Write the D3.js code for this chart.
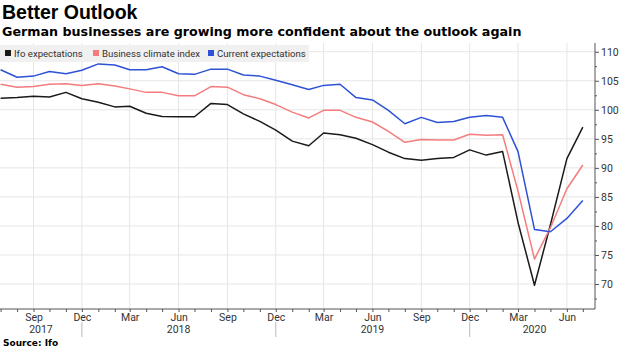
<!DOCTYPE html>
<html>
<head>
<meta charset="utf-8">
<style>
html, body { margin:0; padding:0; background:#fff; overflow:hidden; }
svg { display:block; }
text { font-family: Roboto, sans-serif; fill:#333; }
.title { font-family: "Liberation Sans", Arial, sans-serif; font-weight:bold; fill:#000; }
.subtitle { font-family: "DejaVu Sans", sans-serif; font-weight:bold; fill:#000; }
.axis path, .axis line { stroke:#555; }
</style>
</head>
<body>
<svg id="chart" width="620" height="348"></svg>
<script src="https://d3js.org/d3.v7.min.js"></script>
<script>

// monthly readings, Jul 2017 .. Jul 2020
var months = [
  "2017-07","2017-08","2017-09","2017-10","2017-11","2017-12",
  "2018-01","2018-02","2018-03","2018-04","2018-05","2018-06",
  "2018-07","2018-08","2018-09","2018-10","2018-11","2018-12",
  "2019-01","2019-02","2019-03","2019-04","2019-05","2019-06",
  "2019-07","2019-08","2019-09","2019-10","2019-11","2019-12",
  "2020-01","2020-02","2020-03","2020-04","2020-05","2020-06","2020-07"
];

var ifoExpectations = [
  102.0, 102.1, 102.35, 102.2, 103.0, 101.9,
  101.3, 100.5, 100.6, 99.4, 98.85, 98.8,
  98.8, 101.1, 100.9, 99.3, 98.0, 96.5,
  94.6, 93.8, 96.0, 95.7, 95.1, 94.0,
  92.7, 91.6, 91.3, 91.6, 91.8, 93.1,
  92.2, 92.8, 80.6, 69.8, 80.2, 91.6, 97.0
];

var businessClimate = [
  104.4, 103.9, 104.0, 104.4, 104.5, 104.2,
  104.5, 104.1, 103.6, 103.0, 103.0, 102.4,
  102.4, 104.0, 103.9, 102.6, 101.9, 100.9,
  99.6, 98.6, 99.9, 99.9, 98.7, 97.9,
  96.3, 94.4, 94.9, 94.8, 94.8, 95.8,
  95.6, 95.7, 86.0, 74.3, 79.7, 86.4, 90.5
];

var currentExpectations = [
  106.9, 105.6, 105.8, 106.6, 106.2, 106.8,
  107.9, 107.7, 106.9, 106.9, 107.4, 106.2,
  106.1, 107.0, 107.0, 106.0, 105.8, 105.1,
  104.3, 103.5, 104.2, 104.4, 102.1, 101.7,
  99.9, 97.6, 98.7, 97.8, 98.0, 98.7,
  99.0, 98.7, 92.8, 79.4, 79.0, 81.3, 84.4
];

var seriesNames = ["Ifo expectations", "Business climate index", "Current expectations"];
var seriesColors = ["#1a1a1a", "#f47c7c", "#2d52d6"];
var yTicks = [70, 75, 80, 85, 90, 95, 100, 105, 110];
var yearLabels = [["2017", "2017-09-15"], ["2018", "2018-06-01"], ["2019", "2019-06-01"], ["2020", "2020-04-01"]];

var parseMonth = d3.timeParse("%Y-%m");
var parseDay = d3.timeParse("%Y-%m-%d");
var dates = months.map(parseMonth);

var svg = d3.select("#chart");
var plotLeft = 0, plotRight = 595, plotTop = 43, plotBottom = 309;

var x = d3.scaleTime()
    .domain([dates[0], d3.timeMonth.offset(dates[dates.length - 1], 1)])
    .range([0.6, 599.3]);

var y = d3.scaleLinear()
    .domain([65.7, 111.5])
    .range([plotBottom, plotTop]);

// quarterly months get grid lines and labels
var quarter = function(d) { return d.getMonth() % 3 === 2; };
var allMonths = d3.timeMonth.range(dates[0], x.invert(plotRight));

// grid
svg.append("g").selectAll("line")
  .data(yTicks)
  .enter().append("line")
    .attr("x1", plotLeft).attr("x2", plotRight)
    .attr("y1", d => y(d)).attr("y2", d => y(d))
    .attr("stroke", "#e6e6e6");

svg.append("g").selectAll("line")
  .data(allMonths.filter(quarter))
  .enter().append("line")
    .attr("x1", d => x(d)).attr("x2", d => x(d))
    .attr("y1", plotTop).attr("y2", plotBottom)
    .attr("stroke", "#e6e6e6");

// x axis
var xAxis = svg.append("g")
    .attr("class", "axis")
    .attr("transform", "translate(0," + plotBottom + ")")
    .call(d3.axisBottom(x)
      .tickValues(allMonths)
      .tickSize(3)
      .tickSizeOuter(0)
      .tickFormat(d => quarter(d) ? d3.timeFormat("%b")(d) : ""));
xAxis.select(".domain").attr("d", "M" + plotLeft + ",0H" + plotRight);
xAxis.selectAll("text").attr("dy", "0.6em").style("font-size", "10.5px");

// year separators and labels
svg.append("g").selectAll("line")
  .data(allMonths.filter(d => d.getMonth() === 11))
  .enter().append("line")
    .attr("x1", d => x(d)).attr("x2", d => x(d))
    .attr("y1", plotBottom + 13).attr("y2", plotBottom + 28)
    .attr("stroke", "#bbb");

svg.append("g").selectAll("text")
  .data(yearLabels)
  .enter().append("text")
    .attr("x", d => x(parseDay(d[1])))
    .attr("y", plotBottom + 24)
    .attr("text-anchor", "middle")
    .style("font-size", "10.5px")
    .text(d => d[0]);

// y axis on the right
var yAxis = svg.append("g")
    .attr("class", "axis")
    .attr("transform", "translate(" + plotRight + ",0)")
    .call(d3.axisRight(y)
      .tickValues(d3.range(67.5, 111, 2.5))
      .tickSize(4)
      .tickSizeOuter(0)
      .tickPadding(2)
      .tickFormat(d => d % 5 === 0 ? d : ""));
yAxis.select(".domain").attr("d", "M0," + plotTop + "V" + plotBottom);
yAxis.selectAll(".tick line").attr("x2", d => d % 5 === 0 ? 4 : 2);
yAxis.selectAll("text").style("font-size", "10.5px");

// legend
var legend = svg.append("g");
legend.append("rect")
    .attr("x", 0).attr("y", 45)
    .attr("width", 309).attr("height", 17)
    .attr("fill", "#f0f0f0");

var legendX = [5, 93, 208];
seriesNames.forEach(function(name, i) {
  legend.append("rect")
      .attr("x", legendX[i]).attr("y", 50)
      .attr("width", 6).attr("height", 6)
      .attr("fill", seriesColors[i]);
  legend.append("text")
      .attr("x", legendX[i] + 9).attr("y", 56.5)
      .style("font-size", "9.6px")
      .text(name);
});

// lines
var line = d3.line()
    .x((d, i) => x(dates[i]))
    .y(d => y(d));

[ifoExpectations, businessClimate, currentExpectations].forEach(function(values, i) {
  svg.append("path")
      .datum(values)
      .attr("fill", "none")
      .attr("stroke", seriesColors[i])
      .attr("stroke-width", 1.5)
      .attr("stroke-linejoin", "round")
      .attr("d", line);
});

// headings
svg.append("text")
    .attr("class", "title")
    .attr("x", 2).attr("y", 19)
    .style("font-size", "19.5px")
    .text("Better Outlook");

svg.append("text")
    .attr("class", "subtitle")
    .attr("x", 2).attr("y", 35.5)
    .style("font-size", "12.7px")
    .text("German businesses are growing more confident about the outlook again");

svg.append("text")
    .attr("class", "subtitle")
    .attr("x", 3).attr("y", 345.5)
    .style("font-size", "9px")
    .text("Source: Ifo");

</script>
</body>
</html>
